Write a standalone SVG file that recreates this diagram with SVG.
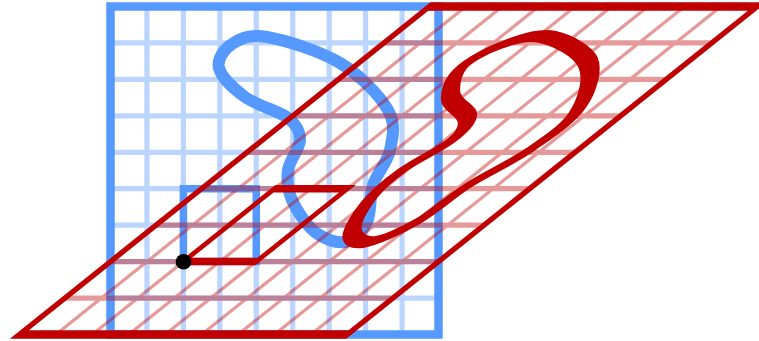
<svg xmlns="http://www.w3.org/2000/svg" xmlns:xlink="http://www.w3.org/1999/xlink" width="759" height="341" viewBox="0 0 759 341">
  <style>
    .grid { fill: none; stroke-width: 5.2; }
    .border { fill: none; stroke-width: 8.5; }
    .small { fill: none; stroke-width: 7.5; }
    .curve { fill: none; stroke-width: 12; }
    .blue-light { stroke: #bbd5ff; }
    .blue { stroke: #5599ff; }
    .red { stroke: #c00000; }
  </style>
  <defs>
    <path id="gridlines" d="M146.94 6.5V334.5M183.39 6.5V334.5M219.83 6.5V334.5M256.28 6.5V334.5M292.72 6.5V334.5M329.17 6.5V334.5M365.61 6.5V334.5M402.06 6.5V334.5M110.5 42.94H438.5M110.5 79.39H438.5M110.5 115.83H438.5M110.5 152.28H438.5M110.5 188.72H438.5M110.5 225.17H438.5M110.5 261.61H438.5M110.5 298.06H438.5"/>
    <rect id="outer" x="110.5" y="6.5" width="328" height="328"/>
    <path id="unit" d="M183.39 261.61H256.28V188.72H183.39Z"/>
    <path id="loop" d="M267,37 C285,40.17 319.83,50.83 340,63 C360.17,75.17 379.67,95.5 388,110 C396.33,124.5 392.5,137.5 390,150 C387.5,162.5 376.83,173 373,185 C369.17,197 371.67,212.5 367,222 C362.33,231.5 353.67,240.33 345,242 C336.33,243.67 323.83,239 315,232 C306.17,225 296.5,210.33 292,200 C287.5,189.67 286.67,180 288,170 C289.33,160 300,148.67 300,140 C300,131.33 297.17,125.17 288,118 C278.83,110.83 256.5,105.33 245,97 C233.5,88.67 221.17,76.83 219,68 C216.83,59.17 224,49.17 232,44 C240,38.83 249,33.83 267,37 Z"/>
  </defs>

  <g id="original">
    <use xlink:href="#gridlines" class="grid blue-light"/>
    <use xlink:href="#outer" class="border blue"/>
    <use xlink:href="#unit" class="small blue"/>
    <use xlink:href="#loop" class="curve blue"/>
  </g>

  <g id="sheared" transform="matrix(1 0 -1.25 1 327.01 0)">
    <g opacity="0.4">
      <use xlink:href="#gridlines" class="grid red"/>
    </g>
    <use xlink:href="#outer" class="border red"/>
    <use xlink:href="#unit" class="small red"/>
    <use xlink:href="#loop" class="curve red"/>
  </g>

  <g id="origin">
    <circle cx="183.5" cy="261.8" r="7.8" fill="#000"/>
  </g>
</svg>
